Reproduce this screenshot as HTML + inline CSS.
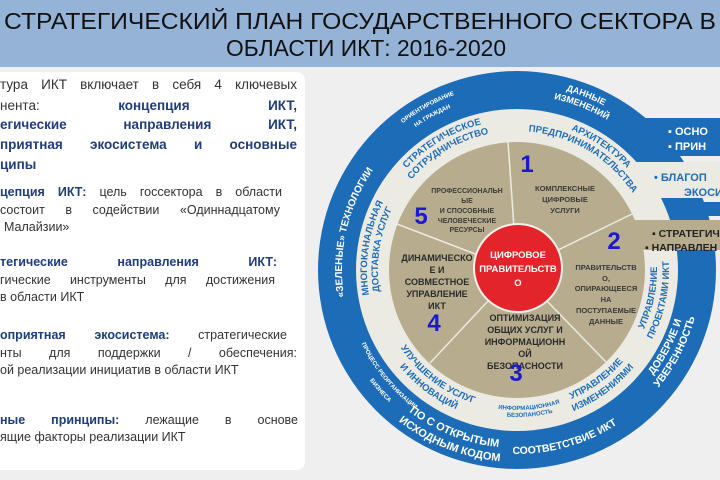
<!DOCTYPE html>
<html><head><meta charset="utf-8"><style>
body{margin:0;width:720px;height:480px;overflow:hidden;background:#efefef;position:relative;font-family:"Liberation Sans",sans-serif}
svg{position:absolute;left:0;top:0}
.box{position:absolute;left:-8px;top:72px;width:313px;height:398px;background:#fff;border-radius:8px}
.l{position:absolute;left:0;white-space:nowrap;color:#333;text-align:justify;text-align-last:justify;line-height:16px}
.l b{color:#1f3d7a}
.p1{font-size:13.5px}
.p{font-size:12.5px}
.n{text-align-last:left}
</style></head><body>
<svg width="720" height="480" viewBox="0 0 720 480" font-family="Liberation Sans, sans-serif">
<rect x="0" y="0" width="720" height="67" fill="#95b3d7"/>
<text x="4" y="29" font-size="23" fill="#111" textLength="712" lengthAdjust="spacingAndGlyphs">СТРАТЕГИЧЕСКИЙ ПЛАН ГОСУДАРСТВЕННОГО СЕКТОРА В</text>
<text x="226" y="56" font-size="23" fill="#111" textLength="280" lengthAdjust="spacingAndGlyphs">ОБЛАСТИ ИКТ: 2016-2020</text>
</svg>
<div class="box"></div>
<div class="l p1" style="top:77px;width:297px">тура ИКТ включает в себя 4 ключевых</div>
<div class="l p1" style="top:98px;width:297px">нента: <b>концепция ИКТ,</b></div>
<div class="l p1" style="top:117px;width:297px"><b>егические направления ИКТ,</b></div>
<div class="l p1" style="top:137px;width:297px"><b>приятная экосистема и основные</b></div>
<div class="l p1 n" style="top:157px"><b>ципы</b></div>
<div class="l p" style="top:184px;width:282px"><b>цепция ИКТ:</b> цель госсектора в области</div>
<div class="l p" style="top:202px;width:280px">состоит в содействии «Одиннадцатому</div>
<div class="l p n" style="top:219px;left:4px">Малайзии»</div>
<div class="l p" style="top:254px;width:277px"><b>тегические направления ИКТ:</b></div>
<div class="l p" style="top:272px;width:275px">гические инструменты для достижения</div>
<div class="l p n" style="top:289px">в области ИКТ</div>
<div class="l p" style="top:327px;width:287px"><b>оприятная экосистема:</b> стратегические</div>
<div class="l p" style="top:345px;width:297px">нты для поддержки / обеспечения:</div>
<div class="l p n" style="top:362px">ой реализации инициатив в области ИКТ</div>
<div class="l p" style="top:412px;width:298px"><b>ные принципы:</b> лежащие в основе</div>
<div class="l p n" style="top:429px">ящие факторы реализации ИКТ</div>

<svg width="720" height="480" viewBox="0 0 720 480" font-family="Liberation Sans, sans-serif">
<defs>
<path id="cw186" d="M331,270 A186,186 0 1 1 703,270 A186,186 0 1 1 331,270"/>
<path id="cw175" d="M342,270 A175,175 0 1 1 692,270 A175,175 0 1 1 342,270"/>
<path id="cw150" d="M367,270 A150,150 0 1 1 667,270 A150,150 0 1 1 367,270"/>
<path id="cw139" d="M378,270 A139,139 0 1 1 656,270 A139,139 0 1 1 378,270"/>
<path id="cw175r" d="M692,270 A175,175 0 1 1 342,270 A175,175 0 1 1 692,270"/>
<path id="cw150r" d="M667,270 A150,150 0 1 1 367,270 A150,150 0 1 1 667,270"/>
<path id="cw139r" d="M656,270 A139,139 0 1 1 378,270 A139,139 0 1 1 656,270"/>
<path id="cc172" d="M345,270 A172,172 0 1 0 689,270 A172,172 0 1 0 345,270"/>
<path id="cc178" d="M339,270 A178,178 0 1 0 695,270 A178,178 0 1 0 339,270"/>
<path id="cc184" d="M333,270 A184,184 0 1 0 701,270 A184,184 0 1 0 333,270"/>
<path id="cc192" d="M325,270 A192,192 0 1 0 709,270 A192,192 0 1 0 325,270"/>
<path id="cc140" d="M377,270 A140,140 0 1 0 657,270 A140,140 0 1 0 377,270"/>
<path id="cc147" d="M370,270 A147,147 0 1 0 664,270 A147,147 0 1 0 370,270"/>
<path id="cc152" d="M365,270 A152,152 0 1 0 669,270 A152,152 0 1 0 365,270"/>
</defs>
<circle cx="517" cy="270" r="199" fill="#1d6cb8"/>
<rect x="630" y="118" width="90" height="38" fill="#1d6cb8"/>
<circle cx="517" cy="270" r="161" fill="#ecebe3"/>
<rect x="600" y="162" width="120" height="36" fill="#ecebe3"/>
<rect x="672" y="202" width="48" height="14" fill="#1d6cb8"/>
<circle cx="517" cy="270" r="128" fill="#b7ad8e"/>
<rect x="620" y="220" width="100" height="30" fill="#b7ad8e"/>
<g stroke="#ecebe3" stroke-width="1.5">
<line x1="517" y1="270" x2="508" y2="142"/>
<line x1="517" y1="270" x2="632" y2="214"/>
<line x1="517" y1="270" x2="606" y2="362"/>
<line x1="517" y1="270" x2="430" y2="363"/>
<line x1="517" y1="270" x2="397" y2="224"/>
</g>
<g fill="#fff" font-weight="bold">
<text x="668" y="135" font-size="11">▪ ОСНО</text>
<text x="668" y="150" font-size="11">▪ ПРИН</text>
</g>
<g fill="#1d6cb8" font-weight="bold" font-size="11">
<text x="654" y="181">•  БЛАГОП</text>
<text x="684" y="196">ЭКОСИ</text>
</g>
<g fill="#222" font-weight="bold" font-size="10.5">
<text x="652" y="237">▪ СТРАТЕГИЧ</text>
<text x="645" y="251">▪ НАПРАВЛЕН</text>
</g>
<g fill="#fff" font-weight="bold" text-anchor="middle">
<text font-size="9"><textPath href="#cw186" startOffset="31%">ДАННЫЕ</textPath></text>
<text font-size="9"><textPath href="#cw175" startOffset="31%">ИЗМЕНЕНИЙ</textPath></text>
<text font-size="6"><textPath href="#cw186" startOffset="17%">ОРИЕНТИРОВАНИЕ</textPath></text>
<text font-size="6"><textPath href="#cw175" startOffset="17%">НА ГРАЖДАН</textPath></text>
<text font-size="10"><textPath href="#cw175r" startOffset="53.6%">«ЗЕЛЕНЫЕ» ТЕХНОЛОГИИ</textPath></text>
<text font-size="6"><textPath href="#cc172" startOffset="11%">ПРОЦЕСС РЕОРГАНИЗАЦИИ</textPath></text>
<text font-size="6"><textPath href="#cc184" startOffset="11.5%">БИЗНЕСА</textPath></text>
<text font-size="11"><textPath href="#cc178" startOffset="19%">ПО С ОТКРЫТЫМ</textPath></text>
<text font-size="11"><textPath href="#cc192" startOffset="19%">ИСХОДНЫМ КОДОМ</textPath></text>
<text font-size="10.5"><textPath href="#cc184" startOffset="29.4%">СООТВЕТСТВИЕ ИКТ</textPath></text>
<text font-size="10.5"><textPath href="#cc172" startOffset="42.4%">ДОВЕРИЕ И</textPath></text>
<text font-size="10.5"><textPath href="#cc184" startOffset="42.4%">УВЕРЕННОСТЬ</textPath></text>
</g>
<g fill="#1d6cb8" font-weight="bold" text-anchor="middle" font-size="9.5">
<text><textPath href="#cw150" startOffset="16.5%">СТРАТЕГИЧЕСКОЕ</textPath></text>
<text><textPath href="#cw139" startOffset="16.5%">СОТРУДНИЧЕСТВО</textPath></text>
<text><textPath href="#cw150" startOffset="34.5%">АРХИТЕКТУРА</textPath></text>
<text><textPath href="#cw139" startOffset="33.5%">ПРЕДПРИНИМАТЕЛЬСТВА</textPath></text>
<text><textPath href="#cc140" startOffset="46.7%">УПРАВЛЕНИЕ</textPath></text>
<text><textPath href="#cc152" startOffset="46.7%">ПРОЕКТАМИ ИКТ</textPath></text>
<text><textPath href="#cc140" startOffset="35%">УПРАВЛЕНИЕ</textPath></text>
<text><textPath href="#cc152" startOffset="35%">ИЗМЕНЕНИЯМИ</textPath></text>
<text font-size="6"><textPath href="#cc140" startOffset="26.4%">ИНФОРМАЦИОННАЯ</textPath></text>
<text font-size="6"><textPath href="#cc147" startOffset="26.4%">БЕЗОПАНОСТЬ</textPath></text>
<text><textPath href="#cc140" startOffset="14.7%">УЛУЧШЕНИЕ УСЛУГ</textPath></text>
<text><textPath href="#cc152" startOffset="14.7%">И ИННОВАЦИЙ</textPath></text>
<text><textPath href="#cw150r" startOffset="52.4%">МНОГОКАНАЛЬНАЯ</textPath></text>
<text><textPath href="#cw139r" startOffset="52.4%">ДОСТАВКА УСЛУГ</textPath></text>
</g>
<g fill="#3a3a3a" font-weight="bold" text-anchor="middle">
<g font-size="7.5">
<text x="565" y="191">КОМПЛЕКСНЫЕ</text><text x="565" y="202">ЦИФРОВЫЕ</text><text x="565" y="213">УСЛУГИ</text>
</g>
<g font-size="7">
<text x="467" y="193">ПРОФЕССИОНАЛЬН</text><text x="467" y="203">ЫЕ</text><text x="467" y="213">И СПОСОБНЫЕ</text><text x="467" y="223">ЧЕЛОВЕЧЕСКИЕ</text><text x="467" y="232">РЕСУРСЫ</text>
</g>
<g font-size="7.5">
<text x="606" y="270">ПРАВИТЕЛЬСТВ</text><text x="606" y="281">О,</text><text x="606" y="291">ОПИРАЮЩЕЕСЯ</text><text x="606" y="302">НА</text><text x="606" y="313">ПОСТУПАЕМЫЕ</text><text x="606" y="324">ДАННЫЕ</text>
</g>
<g font-size="9" fill="#2a2a2a">
<text x="437" y="261">ДИНАМИЧЕСКО</text><text x="437" y="273">Е И</text><text x="437" y="285">СОВМЕСТНОЕ</text><text x="437" y="297">УПРАВЛЕНИЕ</text><text x="437" y="309">ИКТ</text>
<text x="525" y="321">ОПТИМИЗАЦИЯ</text><text x="525" y="333">ОБЩИХ УСЛУГ И</text><text x="525" y="345">ИНФОРМАЦИОНН</text><text x="525" y="357">ОЙ</text><text x="525" y="369">БЕЗОПАСНОСТИ</text>
</g>
</g>
<circle cx="518" cy="268" r="44" fill="#e3242b" stroke="#f3f0ea" stroke-width="2"/>
<g fill="#fff" font-weight="bold" font-size="9.5" text-anchor="middle">
<text x="518" y="258">ЦИФРОВОЕ</text><text x="518" y="272">ПРАВИТЕЛЬСТВ</text><text x="518" y="286">О</text>
</g>
<g fill="#1a1acc" font-weight="bold" font-size="24" text-anchor="middle">
<text x="527" y="172">1</text><text x="614" y="249">2</text><text x="516" y="381">3</text><text x="434" y="331">4</text><text x="421" y="224">5</text>
</g>
</svg>
</body></html>
